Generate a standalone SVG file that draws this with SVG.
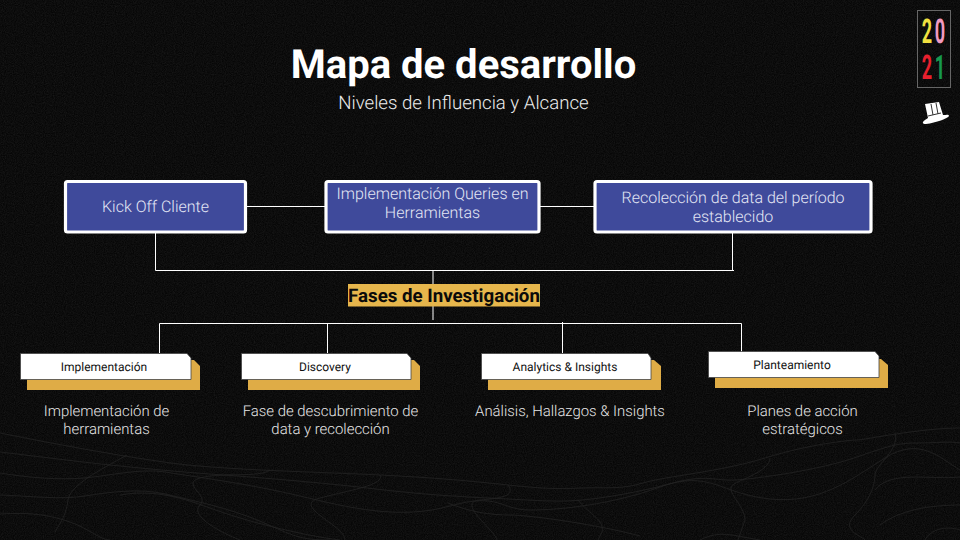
<svg xmlns="http://www.w3.org/2000/svg" width="960" height="540" viewBox="0 0 960 540">
<defs>
<style>
text{font-family:Roboto,"Liberation Sans",sans-serif;text-anchor:middle;text-rendering:geometricPrecision}
.c{fill:none;stroke:#fff;stroke-width:1}
.bg{fill:none;stroke:#232323;stroke-width:.8}
.bx{fill:#3f4a9b;stroke:#fff;stroke-width:3.2}
.bt{font-size:16px;font-weight:300;fill:#e4e7f5}
.tab{fill:#fff;stroke:#444;stroke-width:.8}
.gold{fill:#dfac46}
.tt{font-size:12px;fill:#111}
.d{font-size:14.900px;fill:#e8e8e8;font-weight:300}
.dg{font-size:22px;font-weight:700}
</style>
<filter id="n" x="0" y="0" width="100%" height="100%"><feTurbulence type="fractalNoise" baseFrequency="0.9" numOctaves="2" seed="4"/><feColorMatrix values="0 0 0 0 0.14 0 0 0 0 0.14 0 0 0 0 0.14 0.5 0 0 0 -0.12"/></filter>
</defs>
<rect width="960" height="540" fill="#060606"/>
<rect width="960" height="540" filter="url(#n)" opacity=".55"/>
<g id="contours">
<path class="bg" d="M0 433C60 445 120 456 171 463S320 472 380 475S470 481 508 485S560 489 582 488S620 490 643 483S720 472 765 458S850 440 857 440S920 428 960 428"/>
<path class="bg" d="M0 452C50 458 90 463 110 465S160 470 184 472S300 480 367 488S470 497 508 499S560 502 582 500S640 492 673 483S715 481 735 480S820 470 857 457S900 443 918 443S950 441 960 443"/>
<path class="bg" d="M0 473C30 478 60 480 84 478S140 468 165 472S250 484 300 496S400 520 450 506S500 510 530 510S610 505 660 487S720 494 770 499S850 480 885 458S940 458 960 470"/>
<path class="bg" d="M0 495C30 496 60 500 85 496S140 488 165 494S230 508 262 522S300 540 330 540"/>
<path class="bg" d="M0 514C30 512 50 515 70 522S100 540 110 540M120 495C150 490 175 495 210 508S300 535 340 540M448 503C470 512 490 515 510 515S600 525 640 536"/>
<path class="bg" d="M127 455C100 470 70 485 68 500S62 520 55 532M270 470C260 478 220 472 200 478S210 495 200 505S215 530 240 540"/>
<path class="bg" d="M380 475C385 485 350 490 320 498S345 525 345 540M508 485C515 495 505 498 480 500S495 530 497 540"/>
<path class="bg" d="M578 500C590 515 605 520 602 532L598 540M770 458C770 470 745 478 734 484S745 505 745 520L738 540M895 433C900 450 875 465 875 475S870 500 855 515S860 535 865 540"/>
<path class="bg" d="M960 477C930 480 890 470 875 490M960 505C930 505 900 510 880 525M960 530C945 525 930 530 925 540M700 540C720 530 730 535 760 540"/>
</g>
<text x="463.500" y="78" font-size="40" font-weight="700" fill="#fff">Mapa de desarrollo</text>
<text x="463.500" y="108.500" font-size="18.650" font-weight="300" fill="#ececec">Niveles de Influencia y Alcance</text>
<g id="logo">
<rect x="917.500" y="10.500" width="33" height="77" fill="none" stroke="#666" stroke-width="1"/>
<text class="dg" transform="translate(927 43) scale(.82 1.55)" fill="#f0e040">2</text>
<text class="dg" transform="translate(940 43) scale(.82 1.55)" fill="#f19ac0">0</text>
<text class="dg" transform="translate(927 79) scale(.82 1.55)" fill="#e8202e">2</text>
<text class="dg" transform="translate(940 79) scale(.82 1.55)" fill="#17994f">1</text>
</g>
<g id="hat">
<path fill="#fff" d="M925 104L939 102L943 115C946 115 949 114 949 116C948 118 936 123 926 124C922 124 922 122 925 120L928 118Z"/>
<path fill="none" stroke="#333" stroke-width="1" d="M928 116L941 113M931 104L933 115M936 103L938 114"/>
</g>
<g id="connectors">
<path class="c" d="M246 206.500H326M539 206.500H595M155.500 233V270.500H734M732.500 233V270.500M433 270.500V286M433 305V320"/>
<path class="c" d="M159.500 353V323.500H741.500V353M327.500 323.500V353M562.500 322V353"/>
</g>
<g id="n1"><rect class="bx" x="65.500" y="181.500" width="180" height="50.500" rx="2"/><text class="bt" x="155.500" y="212">Kick Off Cliente</text></g>
<g id="n2"><rect class="bx" x="326" y="181.500" width="213" height="50.500" rx="2"/><text class="bt" x="432.500" y="199">Implementación Queries en</text><text class="bt" x="432.500" y="218">Herramientas</text></g>
<g id="n3"><rect class="bx" x="595" y="181.500" width="276" height="50.500" rx="2"/><text class="bt" x="733" y="203">Recolección de data del período</text><text class="bt" x="733" y="222">establecido</text></g>
<g id="fases"><rect fill="#e6b64c" x="348" y="284" width="192" height="22.500"/><text x="444" y="301.500" font-size="18.700" font-weight="700" fill="#0a0a0a">Fases de Investigación</text></g>
<g id="t1"><path class="gold" d="M27 360H194L200 366V390H27Z"/><path class="tab" d="M20.500 353.500H187L191 358V379.500H20.500Z"/><text class="tt" x="104" y="371">Implementación</text></g>
<g id="t2"><path class="gold" d="M248 360H414L420 366V390H248Z"/><path class="tab" d="M241.500 353.500H407L411 358V379.500H241.500Z"/><text class="tt" x="325" y="371">Discovery</text></g>
<g id="t3"><path class="gold" d="M488 360H654L661 366V390H488Z"/><path class="tab" d="M481.500 353.500H648L651 358V379.500H481.500Z"/><text class="tt" x="565" y="371">Analytics &amp; Insights</text></g>
<g id="t4"><path class="gold" d="M715 359H881L888 365V388H715Z"/><path class="tab" d="M708.500 351.500H875L879 356V377.500H708.500Z"/><text class="tt" x="792" y="369">Planteamiento</text></g>
<g id="d1"><text class="d" x="106.500" y="416">Implementación de</text><text class="d" x="106.500" y="434">herramientas</text></g>
<g id="d2"><text class="d" x="330.500" y="416">Fase de descubrimiento de</text><text class="d" x="330.500" y="434">data y recolección</text></g>
<g id="d3"><text class="d" x="570" y="416">Análisis, Hallazgos &amp; Insights</text></g>
<g id="d4"><text class="d" x="802.500" y="416">Planes de acción</text><text class="d" x="802.500" y="434">estratégicos</text></g>
</svg>
